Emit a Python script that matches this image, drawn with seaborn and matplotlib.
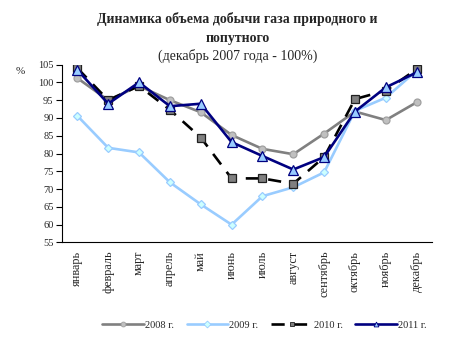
import matplotlib
matplotlib.use("Agg")
import matplotlib.pyplot as plt
import seaborn as sns
import pandas as pd

months = ["январь", "февраль", "март", "апрель", "май", "июнь", "июль",
          "август", "сентябрь", "октябрь", "ноябрь", "декабрь"]
y2008 = [101.2, 95.0, 99.0, 95.0, 91.6, 85.2, 81.3, 79.8, 85.6, 91.8, 89.4, 94.4]
y2009 = [90.6, 81.6, 80.3, 71.9, 65.7, 60.0, 68.0, 70.5, 74.7, 92.0, 95.7, 103.3]
y2010 = [104.0, 95.0, 99.0, 92.3, 84.5, 73.0, 73.0, 71.5, 79.0, 95.3, 97.7, 103.7]
y2011 = [103.5, 94.0, 100.0, 93.3, 94.0, 83.2, 79.3, 75.5, 79.0, 91.8, 98.6, 102.8]
series_names = ["2008 г.", "2009 г.", "2010 г.", "2011 г."]
yticks = list(range(55, 106, 5))

sns.set_theme(style="white")
plt.rcParams["font.family"] = ["Liberation Serif", "DejaVu Serif"]

fig = plt.figure(figsize=(4.52, 3.40), dpi=100)
ax = fig.add_axes([0.137, 0.287, 0.819, 0.523])

styles = [
    dict(color="#808080", marker="o", markersize=5, markerfacecolor="#C0C0C0",
         markeredgecolor="#A0A0A0", linestyle="-"),
    dict(color="#99CCFF", marker="D", markersize=4.5, markerfacecolor="#CCFFFF",
         markeredgecolor="#99CCFF", linestyle="-"),
    dict(color="black", marker="s", markersize=6, markerfacecolor="#808080",
         markeredgecolor="#202020", linestyle=(0, (5, 3.5))),
    dict(color="#000080", marker="^", markersize=6.5, markerfacecolor="#99CCFF",
         markeredgecolor="#000080", linestyle="-"),
]
for name, vals, st in zip(series_names, [y2008, y2009, y2010, y2011], styles):
    df = pd.DataFrame({"month": months, "value": vals})
    sns.lineplot(data=df, x="month", y="value", ax=ax, label=name,
                 linewidth=1.9, markeredgewidth=0.9, sort=False, **st)

ax.set_xlim(-0.5, 11.5)
ax.set_ylim(55, 105)
ax.set_yticks(yticks)
ax.set_yticklabels([str(t) for t in yticks], fontsize=7.5)
ax.set_xticks(range(12))
ax.set_xticklabels(months, rotation=90, fontsize=8.8, va="top")
ax.set_xticks([i - 0.5 for i in range(13)], minor=True)
ax.tick_params(axis="x", which="major", length=0, pad=6)
ax.tick_params(axis="x", which="minor", length=4, width=0.8, direction="out", color="black")
ax.tick_params(axis="y", length=4, width=0.8, direction="out", color="black", pad=2, left=True)
ax.set_xlabel("")
ax.set_ylabel("")
for s in ["top", "right"]:
    ax.spines[s].set_visible(False)
for s in ["left", "bottom"]:
    ax.spines[s].set_color("black")
    ax.spines[s].set_linewidth(0.8)

fig.text(0.045, 0.79, "%", fontsize=8, ha="center", va="center")
fig.text(0.525, 0.945, "Динамика объема добычи газа природного и", fontsize=10,
         fontweight="bold", ha="center", va="center")
fig.text(0.525, 0.888, "попутного", fontsize=10, fontweight="bold", ha="center", va="center")
fig.text(0.525, 0.835, "(декабрь 2007 года - 100%)", fontsize=10, ha="center", va="center")

leg = ax.legend(loc="center", bbox_to_anchor=(0.585, 0.044), bbox_transform=fig.transFigure,
                ncol=4, frameon=False, fontsize=7.5, handlelength=4.0, handletextpad=0.1,
                columnspacing=1.2)
for h in leg.get_lines():
    h.set_markersize(3.5)
    h.set_markeredgewidth(0.6)

fig.savefig("out.png", dpi=100)
